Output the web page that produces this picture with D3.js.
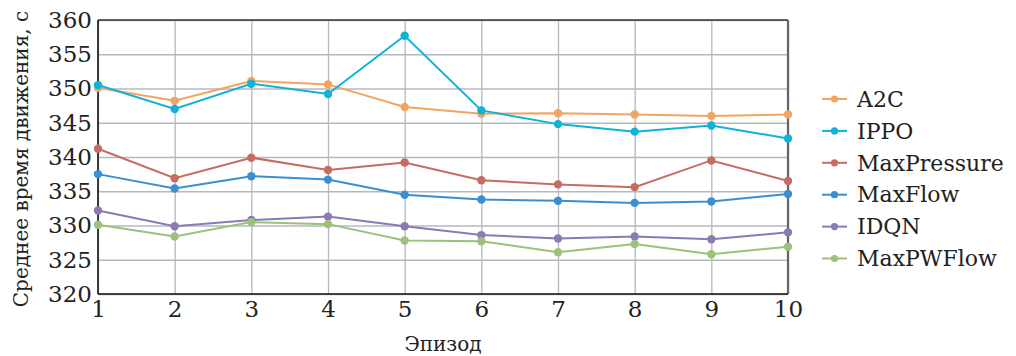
<!DOCTYPE html>
<html>
<head>
<meta charset="utf-8">
<script src="https://cdn.jsdelivr.net/npm/d3@7"></script>
<style>
  body { margin: 0; background: #fff; }
  .grid line { stroke: #b4b9c0; stroke-width: 1.3; }
  .grid path { display: none; }
  .axis path, .axis line { display: none; }
</style>
</head>
<body>
<svg class="chart"></svg>
<script>
var episodes = [1, 2, 3, 4, 5, 6, 7, 8, 9, 10];
var yTicks = [320, 325, 330, 335, 340, 345, 350, 355, 360];

var a2c         = [350.1, 348.2, 351.1, 350.6, 347.3, 346.3, 346.4, 346.2, 346.0, 346.2];
var ippo        = [350.5, 347.0, 350.7, 349.2, 357.7, 346.8, 344.8, 343.7, 344.6, 342.7];
var maxPressure = [341.2, 336.9, 339.9, 338.1, 339.2, 336.6, 336.0, 335.6, 339.5, 336.5];
var maxFlow     = [337.5, 335.4, 337.2, 336.7, 334.5, 333.8, 333.6, 333.3, 333.5, 334.6];
var idqn        = [332.2, 329.9, 330.8, 331.3, 329.9, 328.6, 328.1, 328.4, 328.0, 329.0];
var maxPWFlow   = [330.1, 328.4, 330.5, 330.2, 327.8, 327.7, 326.1, 327.3, 325.8, 326.9];

var seriesNames = ["A2C", "IPPO", "MaxPressure", "MaxFlow", "IDQN", "MaxPWFlow"];
var seriesColors = ["#f1a560", "#10b3d6", "#c56d60", "#3b8fd0", "#8a7bb5", "#9cc17a"];
var seriesValues = [a2c, ippo, maxPressure, maxFlow, idqn, maxPWFlow];

var FONT = "'DejaVu Serif', 'Liberation Serif', 'Noto Serif', 'Times New Roman', serif";

var margin = {top: 20, right: 228, bottom: 62, left: 98},
    width = 1016 - margin.left - margin.right,
    height = 356 - margin.top - margin.bottom;

var x = d3.scaleLinear().domain([1, 10]).range([0, width]);
var y = d3.scaleLinear().domain([320, 360]).range([height, 0]);

var svg = d3.select("svg.chart")
    .attr("width", 1016)
    .attr("height", 356)
    .attr("font-family", FONT)
  .append("g")
    .attr("transform", "translate(" + margin.left + "," + margin.top + ")");

// grid
svg.append("g")
    .attr("class", "grid")
    .attr("transform", "translate(0," + height + ")")
    .call(d3.axisBottom(x).tickValues(episodes).tickSize(-height).tickFormat(""));

svg.append("g")
    .attr("class", "grid")
    .call(d3.axisLeft(y).tickValues(yTicks).tickSize(-width).tickFormat(""));

// frame
svg.append("line").attr("x1", 0).attr("x2", width).attr("y1", 0).attr("y2", 0)
    .attr("stroke", "#333").attr("stroke-width", 1.5);
svg.append("line").attr("x1", width).attr("x2", width).attr("y1", 0).attr("y2", height)
    .attr("stroke", "#666").attr("stroke-width", 2.2);
svg.append("line").attr("x1", 0).attr("x2", 0).attr("y1", 0).attr("y2", height)
    .attr("stroke", "#111").attr("stroke-width", 1.6);
svg.append("line").attr("x1", 0).attr("x2", width).attr("y1", height).attr("y2", height)
    .attr("stroke", "#111").attr("stroke-width", 1.6);

// axes labels
var xAxis = svg.append("g")
    .attr("class", "axis")
    .attr("transform", "translate(0," + height + ")")
    .call(d3.axisBottom(x).tickValues(episodes).tickFormat(d3.format("d")).tickSize(0).tickPadding(7));
xAxis.attr("font-family", null);
xAxis.selectAll("text").style("font-family", FONT).style("font-size", "23px").attr("fill", "#222");

var yAxis = svg.append("g")
    .attr("class", "axis")
    .call(d3.axisLeft(y).tickValues(yTicks).tickSize(0).tickPadding(6));
yAxis.attr("font-family", null);
yAxis.selectAll("text").style("font-family", FONT).style("font-size", "23px").attr("fill", "#222");

svg.append("text")
    .attr("x", width / 2)
    .attr("y", height + 57)
    .attr("text-anchor", "middle")
    .attr("fill", "#222")
    .style("font-family", FONT)
    .style("font-size", "20px")
    .text("Эпизод");

svg.append("text")
    .attr("transform", "rotate(-90)")
    .attr("x", -height / 2 - 2)
    .attr("y", -70)
    .attr("text-anchor", "middle")
    .attr("fill", "#222")
    .style("font-family", FONT)
    .style("font-size", "20px")
    .text("Среднее время движения, с");

// lines
var line = d3.line()
    .x(function(d, i) { return x(episodes[i]); })
    .y(function(d) { return y(d); });

seriesValues.forEach(function(vals, k) {
  svg.append("path")
      .datum(vals)
      .attr("fill", "none")
      .attr("stroke", seriesColors[k])
      .attr("stroke-width", 2)
      .attr("d", line);

  svg.selectAll(null)
      .data(vals)
      .enter().append("circle")
      .attr("cx", function(d, i) { return x(episodes[i]); })
      .attr("cy", function(d) { return y(d); })
      .attr("r", 4.2)
      .attr("fill", seriesColors[k]);
});

// legend
var legend = svg.append("g")
    .attr("transform", "translate(" + (width + 34) + ",79)");

seriesNames.forEach(function(name, k) {
  var g = legend.append("g").attr("transform", "translate(0," + (k * 31.9) + ")");
  g.append("line").attr("x1", 0).attr("x2", 25).attr("y1", 0).attr("y2", 0)
      .attr("stroke", seriesColors[k]).attr("stroke-width", 2);
  g.append("circle").attr("cx", 12.5).attr("cy", 0).attr("r", 3.6).attr("fill", seriesColors[k]);
  g.append("text").attr("x", 35).attr("y", 0).attr("dy", "0.35em")
      .attr("fill", "#222")
      .style("font-family", FONT)
      .style("font-size", "22px").text(name);
});
</script>
</body>
</html>
